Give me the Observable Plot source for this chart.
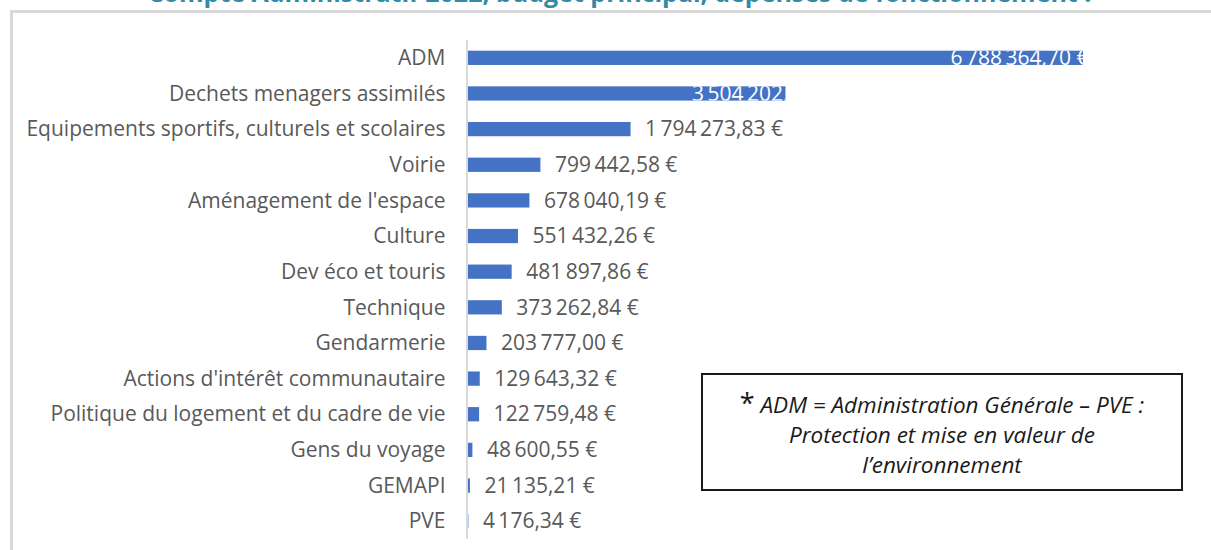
<!DOCTYPE html>
<html>
<head>
<meta charset="utf-8">
<script src="https://cdn.jsdelivr.net/npm/d3@7"></script>
<script src="https://cdn.jsdelivr.net/npm/@observablehq/plot@0.6"></script>
<style>
  html, body { margin: 0; padding: 0; background: #fff; overflow: hidden; }
  #wrap { position: relative; width: 1211px; height: 550px; overflow: hidden; font-family: "Open Sans", Lato, sans-serif; }
  #title { position: absolute; left: 14px; width: 1211px; top: -25px; text-align: center; font-weight: bold; font-size: 25px; color: #2f8ba6; font-family: "Open Sans", Lato, sans-serif; white-space: nowrap; }
  #frame { position: absolute; left: 10px; top: 10px; width: 1300px; height: 600px; border-left: 3px solid #d9d9d9; border-top: 3px solid #d9d9d9; box-sizing: border-box; }
  #chart { position: absolute; left: 0; top: 0; }
  #note { position: absolute; left: 701px; top: 373px; width: 482px; height: 118px; box-sizing: border-box; border: 2px solid #1a1a1a; background: #fff; text-align: center; font-style: italic; font-size: 22.5px; line-height: 30px; color: #1a1a1a; padding-top: 13px; }
  #note .star { font-style: normal; font-size: 27px; }
</style>
</head>
<body>
<div id="wrap">
  <div id="title">Compte Administratif 2022, budget principal, dépenses de fonctionnement :</div>
  <div id="frame"></div>
  <div id="chart"></div>
  <div id="note"><span class="star">*</span> ADM = Administration Générale – PVE :<br>Protection et mise en valeur de<br>l’environnement</div>
</div>
<script>
const categories = [
  "ADM",
  "Dechets menagers assimilés",
  "Equipements sportifs, culturels et scolaires",
  "Voirie",
  "Aménagement de l'espace",
  "Culture",
  "Dev éco et touris",
  "Technique",
  "Gendarmerie",
  "Actions d'intérêt communautaire",
  "Politique du logement et du cadre de vie",
  "Gens du voyage",
  "GEMAPI",
  "PVE"
];
const values = [
  6788364.70, 3504202.00, 1794273.83, 799442.58, 678040.19, 551432.26,
  481897.86, 373262.84, 203777.00, 129643.32, 122759.48, 48600.55,
  21135.21, 4176.34
];
// labels drawn inside the bar end (white, cut by the bar), the rest outside
const insideLabels = ["ADM", "Dechets menagers assimilés"];

const data = categories.map((c, i) => ({category: c, value: values[i], inside: insideLabels.includes(c)}));

const fr = d3.formatLocale({decimal: ",", thousands: "\u2009", grouping: [3], currency: ["", " €"]});
const fmt = v => fr.format(",.2f")(v) + " €";

const textColor = "#595959";
const barColor = "#4472c4";
const FS = 21;

// clip a text mark to its own bars
const clipToBars = rows => (index, scales, vals, dims, context, next) => {
  const g = next(index, scales, vals, dims, context);
  const ns = "http://www.w3.org/2000/svg";
  const outer = document.createElementNS(ns, "g");
  const cp = document.createElementNS(ns, "clipPath");
  const id = "clip-" + Math.random().toString(36).slice(2);
  cp.setAttribute("id", id);
  const bw = scales.y.bandwidth ? scales.y.bandwidth() : 14;
  for (const d of rows) {
    const r = document.createElementNS(ns, "rect");
    r.setAttribute("x", scales.x(0));
    r.setAttribute("width", scales.x(d.value) - scales.x(0));
    r.setAttribute("y", scales.y(d.category));
    r.setAttribute("height", bw);
    cp.appendChild(r);
  }
  outer.appendChild(cp);
  outer.setAttribute("clip-path", `url(#${id})`);
  outer.appendChild(g);
  return outer;
};

const inside = data.filter(d => d.inside);

const chart = Plot.plot({
  width: 1211,
  height: 550,
  marginLeft: 468,
  marginRight: 128,
  marginTop: 40,
  marginBottom: 11,
  style: {background: "transparent", fontFamily: "'Open Sans', Lato, sans-serif", fontSize: FS + "px", color: textColor},
  x: {domain: [0, d3.max(values)], axis: null},
  y: {domain: categories, paddingInner: 0.6, paddingOuter: 0.3, round: false, label: null},
  marks: [
    Plot.barX(data, {x: "value", y: "category", fill: barColor}),
    Plot.ruleX([0], {stroke: "#d9d9d9", strokeWidth: 2, dx: -1.5}),
    Plot.axisY({tickSize: 0, tickPadding: 23, fontSize: FS, fill: textColor, label: null}),
    Plot.text(data.filter(d => !d.inside), {x: "value", y: "category", text: d => fmt(d.value), textAnchor: "start", dx: 14, fontSize: FS, fill: textColor}),
    Plot.text(inside.slice(0, 1), {x: "value", y: "category", text: d => fmt(d.value), textAnchor: "end", dx: 5, fontSize: FS, fill: "#fff", render: clipToBars(inside.slice(0, 1))}),
    Plot.text(inside.slice(1, 2), {x: "value", y: "category", text: d => fmt(d.value), textAnchor: "end", dx: 44, fontSize: FS, fill: "#fff", render: clipToBars(inside.slice(1, 2))})
  ]
});
document.getElementById("chart").appendChild(chart);
</script>
</body>
</html>
